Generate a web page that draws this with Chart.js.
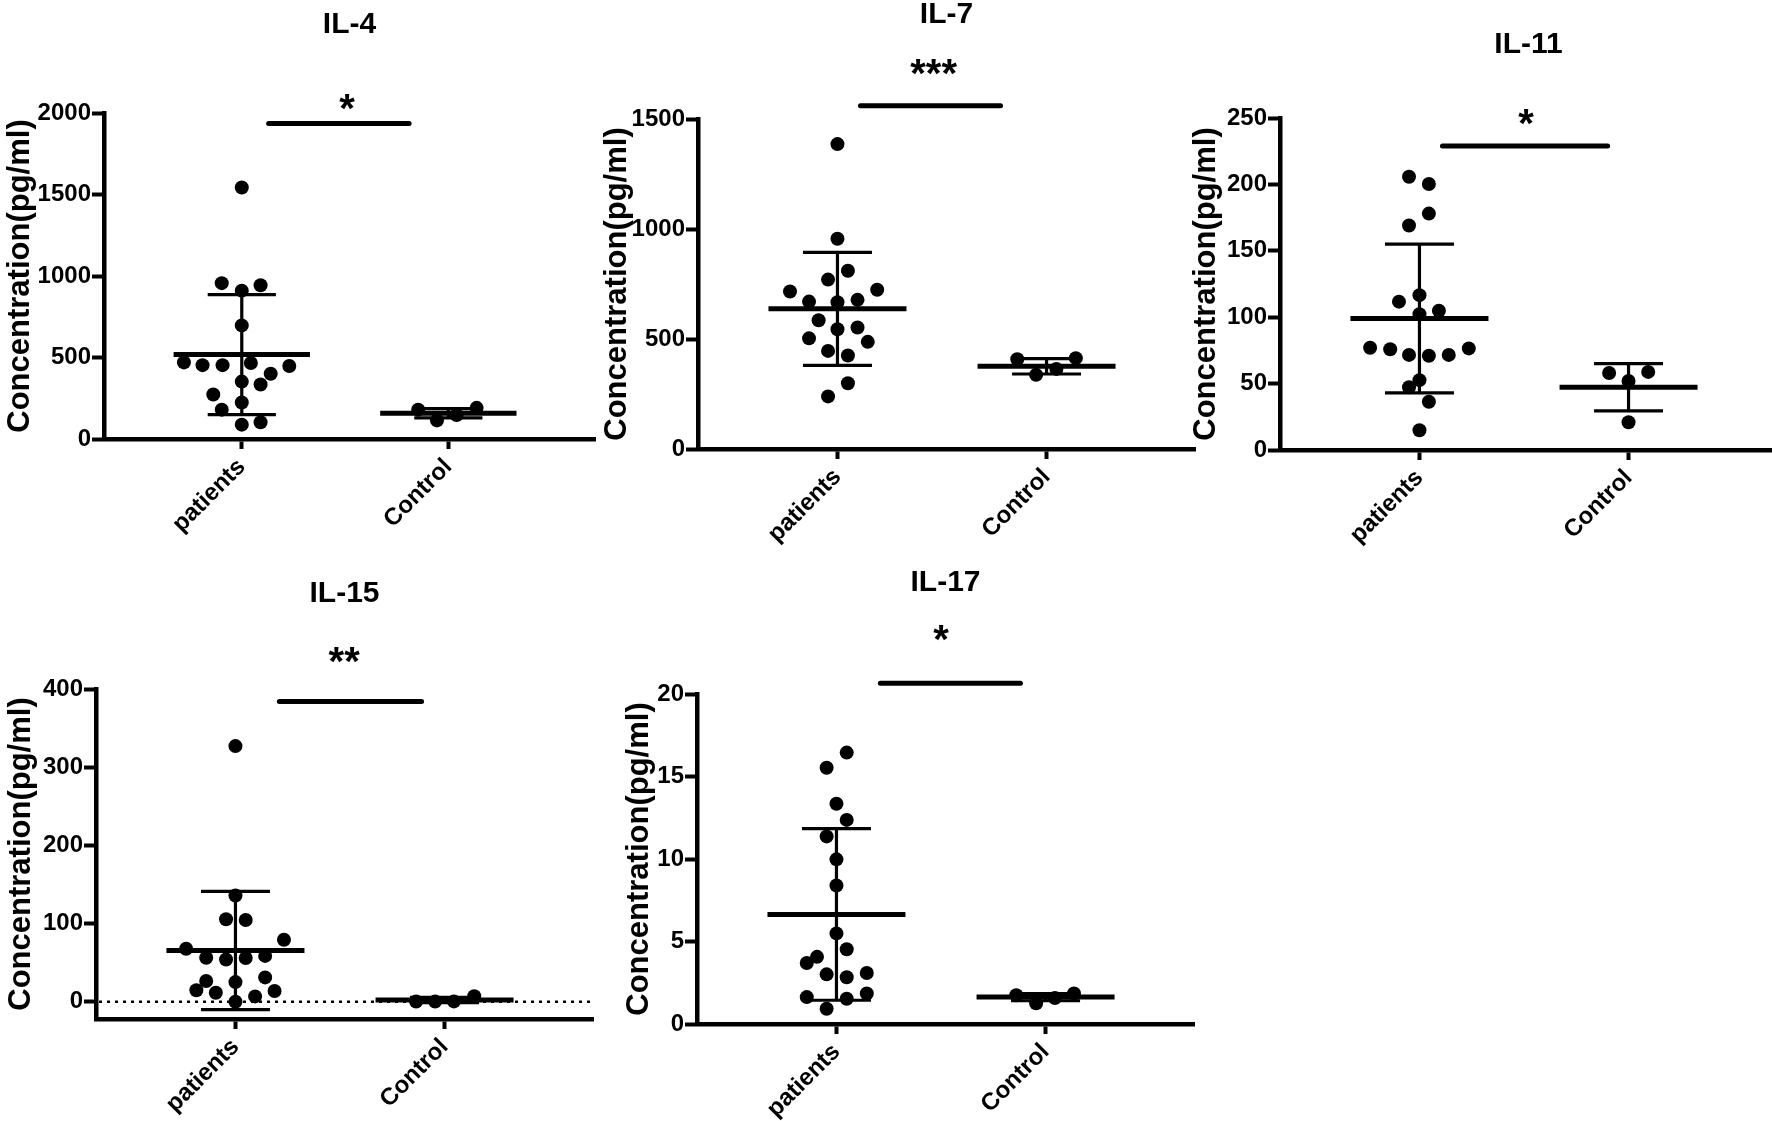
<!DOCTYPE html>
<html>
<head>
<meta charset="utf-8">
<title>Cytokine concentrations</title>
<script src="https://cdn.jsdelivr.net/npm/chart.js@4.4.1/dist/chart.umd.min.js"></script>
<style>
  html, body { margin: 0; padding: 0; background: #fff; width: 1772px; height: 1121px; overflow: hidden; }
  body { position: relative; }
  canvas { position: absolute; }
</style>
</head>
<body>
<script>
// ---------------- DATA ----------------
const categories = ['patients', 'Control'];
const yAxisTitle = 'Concentration(pg/ml)';

// IL-4
const il4Patients = [1543, 956, 910, 943, 697, 470, 453, 453, 466, 448, 400, 352, 334, 273, 224, 180, 88, 103];
const il4PatientsJitter = [0, -0.097, 0, 0.091, 0, -0.28, -0.19, -0.093, 0.044, 0.23, 0.14, 0, 0.091, -0.138, 0, -0.097, 0, 0.091];
const il4Control = [180, 114, 147, 191];
const il4ControlJitter = [-0.146, -0.055, 0.04, 0.137];
const il4Mean = [518, 158];
const il4SD = [368, 28];
const il4Ticks = [0, 500, 1000, 1500, 2000];
const il4Sig = '*';

// IL-7
const il7Patients = [1386, 956, 810, 770, 716, 724, 670, 667, 678, 585, 544, 552, 503, 487, 446, 425, 299, 239];
const il7PatientsJitter = [0, 0, 0.05, -0.045, -0.227, 0.19, -0.136, 0, 0.096, -0.09, 0, 0.096, -0.136, 0.145, -0.045, 0.05, 0.05, -0.045];
const il7Control = [408, 337, 364, 413];
const il7ControlJitter = [-0.14, -0.05, 0.047, 0.14];
const il7Mean = [637, 376];
const il7SD = [257, 35];
const il7Ticks = [0, 500, 1000, 1500];
const il7Sig = '***';

// IL-11
const il11Patients = [205.8, 200.3, 178, 169, 116.6, 111.7, 102.2, 104.9, 77, 75.9, 71.6, 71, 71.6, 76.5, 52.6, 47.2, 36.3, 14.9];
const il11PatientsJitter = [-0.05, 0.045, 0.045, -0.05, 0, -0.098, 0, 0.093, -0.236, -0.14, -0.05, 0.045, 0.14, 0.236, 0, -0.05, 0.045, 0];
const il11Control = [58, 52, 58.8, 20.9];
const il11ControlJitter = [-0.093, 0, 0.094, 0];
const il11Mean = [99, 47.2];
const il11SD = [56, 17.8];
const il11Ticks = [0, 50, 100, 150, 200, 250];
const il11Sig = '*';

// IL-15
const il15Patients = [327, 136, 105.5, 104.6, 79.4, 67.9, 56.4, 54.1, 56, 58.7, 26.6, 25.2, 31.2, 14.7, 11.5, 6.9, 13.8, 0];
const il15PatientsJitter = [0, 0, -0.045, 0.049, 0.232, -0.236, -0.14, -0.045, 0.049, 0.142, -0.14, 0, 0.142, -0.187, -0.094, 0.094, 0.187, 0];
const il15Control = [0.4, 0.3, 0.5, 7.2];
const il15ControlJitter = [-0.136, -0.045, 0.045, 0.142];
const il15Mean = [65.6, 2.4];
const il15SD = [75.5, 3.4];
const il15Ticks = [0, 100, 200, 300, 400];
const il15Sig = '**';

// IL-17
const il17Patients = [16.45, 15.53, 13.35, 12.37, 11.37, 9.98, 8.39, 5.49, 4.53, 4.07, 3.70, 3.01, 2.83, 3.09, 1.63, 1.53, 1.85, 0.92];
const il17PatientsJitter = [0.049, -0.047, 0, 0.049, -0.047, 0, 0, 0, 0.049, -0.093, -0.142, -0.047, 0.049, 0.145, -0.142, 0.049, 0.145, -0.047];
const il17Control = [1.74, 1.26, 1.57, 1.85];
const il17ControlJitter = [-0.14, -0.045, 0.045, 0.136];
const il17Mean = [6.64, 1.63];
const il17SD = [5.2, 0.22];
const il17Ticks = [0, 5, 10, 15, 20];
const il17Sig = '*';

// ---------------- LAYOUT / STYLE ----------------
const FONT = '"Liberation Sans", Arial, Helvetica, sans-serif';
const X_MIN = 0.333, X_MAX = 2.71;
const MEAN_HALF = 0.33, CAP_HALF = 0.165;
const TITLE_SIZE = 30, YTITLE_SIZE = 31, TICK_SIZE = 24, CAT_SIZE = 24, STAR_SIZE = 40;
const X_AXIS_H = 120;
const AXIS_W = 4.5;

const panels = [
  { title: 'IL-4', patients: il4Patients, pj: il4PatientsJitter, control: il4Control, cj: il4ControlJitter,
    mean: il4Mean, sd: il4SD, ticks: il4Ticks, sig: il4Sig,
    area: [104, 113, 595, 439], yRange: [0, 2000], labelCx: 20, titleCy: 25,
    sigBar: [1.13, 1.81, 1935], star: [1.51, 2083], zeroLine: false },
  { title: 'IL-7', patients: il7Patients, pj: il7PatientsJitter, control: il7Control, cj: il7ControlJitter,
    mean: il7Mean, sd: il7SD, ticks: il7Ticks, sig: il7Sig,
    area: [698, 119, 1195, 449], yRange: [0, 1500], labelCx: 617, titleCy: 15,
    sigBar: [1.11, 1.78, 1560], star: [1.46, 1748], zeroLine: false },
  { title: 'IL-11', patients: il11Patients, pj: il11PatientsJitter, control: il11Control, cj: il11ControlJitter,
    mean: il11Mean, sd: il11SD, ticks: il11Ticks, sig: il11Sig,
    area: [1280, 118, 1777, 450], yRange: [0, 250], labelCx: 1206, titleCy: 45,
    sigBar: [1.11, 1.9, 229], star: [1.51, 253], zeroLine: false },
  { title: 'IL-15', patients: il15Patients, pj: il15PatientsJitter, control: il15Control, cj: il15ControlJitter,
    mean: il15Mean, sd: il15SD, ticks: il15Ticks, sig: il15Sig,
    area: [96, 689, 593, 1019], yRange: [-22, 400], labelCx: 21, titleCy: 594,
    sigBar: [1.21, 1.89, 384], star: [1.52, 447], zeroLine: true },
  { title: 'IL-17', patients: il17Patients, pj: il17PatientsJitter, control: il17Control, cj: il17ControlJitter,
    mean: il17Mean, sd: il17SD, ticks: il17Ticks, sig: il17Sig,
    area: [697, 694, 1194, 1024], yRange: [0, 20], labelCx: 639, titleCy: 583,
    sigBar: [1.21, 1.88, 20.65], star: [1.5, 23.9], zeroLine: false },
];

Chart.defaults.font.family = FONT;
Chart.defaults.color = '#000';

const decorPlugin = {
  id: 'decor',
  beforeDatasetsDraw(chart, args, o) {
    const { ctx, chartArea } = chart;
    const ys = chart.scales.y;
    if (o.zeroLine) {
      ctx.save();
      ctx.strokeStyle = '#000';
      ctx.lineWidth = 2.5;
      ctx.setLineDash([3, 5]);
      const y0 = ys.getPixelForValue(0);
      ctx.beginPath();
      ctx.moveTo(chartArea.left + 3, y0);
      ctx.lineTo(chartArea.right, y0);
      ctx.stroke();
      ctx.restore();
    }
  },
  afterDatasetsDraw(chart, args, o) {
    const { ctx } = chart;
    const xs = chart.scales.x, ys = chart.scales.y;
    const px = v => xs.getPixelForValue(v), py = v => ys.getPixelForValue(v);
    ctx.save();
    ctx.strokeStyle = '#000';
    ctx.fillStyle = '#000';
    o.mean.forEach((m, i) => {
      const c = i + 1, s = o.sd[i];
      // SD whisker
      ctx.lineWidth = 3.2;
      ctx.lineCap = 'butt';
      ctx.beginPath();
      ctx.moveTo(px(c), py(m + s)); ctx.lineTo(px(c), py(m - s));
      ctx.moveTo(px(c - CAP_HALF), py(m + s)); ctx.lineTo(px(c + CAP_HALF), py(m + s));
      ctx.moveTo(px(c - CAP_HALF), py(m - s)); ctx.lineTo(px(c + CAP_HALF), py(m - s));
      ctx.stroke();
      // mean
      ctx.lineWidth = 5;
      ctx.beginPath();
      ctx.moveTo(px(c - MEAN_HALF), py(m)); ctx.lineTo(px(c + MEAN_HALF), py(m));
      ctx.stroke();
    });
    // significance bar
    ctx.lineWidth = 5;
    ctx.lineCap = 'round';
    ctx.beginPath();
    ctx.moveTo(px(o.sigBar[0]), py(o.sigBar[2]));
    ctx.lineTo(px(o.sigBar[1]), py(o.sigBar[2]));
    ctx.stroke();
    // stars
    ctx.font = 'bold ' + STAR_SIZE + 'px ' + FONT;
    ctx.textAlign = 'center';
    ctx.textBaseline = 'alphabetic';
    ctx.fillText(o.sig, px(o.star[0]), py(o.star[1]) + 0.575 * STAR_SIZE);
    ctx.restore();
  }
};

panels.forEach(p => {
  const [l, t, r, b] = p.area;
  const ytLine = YTITLE_SIZE * 1.2;
  const cL = Math.floor(p.labelCx - ytLine / 2);
  const cT = Math.floor(p.titleCy - TITLE_SIZE / 2);
  const W = r - cL + 8;
  const H = b - cT + X_AXIS_H;
  const cv = document.createElement('canvas');
  cv.width = W; cv.height = H;
  cv.style.left = cL + 'px'; cv.style.top = cT + 'px';
  cv.style.width = W + 'px'; cv.style.height = H + 'px';
  document.body.appendChild(cv);

  const pts = (vals, jit, c) => vals.map((v, i) => ({ x: c + jit[i], y: v }));

  new Chart(cv, {
    type: 'scatter',
    data: {
      datasets: [
        { label: categories[0], data: pts(p.patients, p.pj, 1) },
        { label: categories[1], data: pts(p.control, p.cj, 2) },
      ]
    },
    options: {
      responsive: false,
      animation: false,
      events: [],
      layout: { padding: { left: 0, top: 0, right: 8, bottom: 0 } },
      elements: {
        point: { radius: 7, backgroundColor: '#000', borderWidth: 0, pointStyle: 'circle' }
      },
      datasets: { scatter: { clip: false } },
      plugins: {
        legend: { display: false },
        tooltip: { enabled: false },
        title: {
          display: true, text: p.title, fullSize: false, color: '#000',
          font: { size: TITLE_SIZE, weight: 'bold', family: FONT, lineHeight: 1 },
          padding: { top: p.titleCy - TITLE_SIZE / 2 - cT, bottom: t - (p.titleCy + TITLE_SIZE / 2) }
        },
        decor: { mean: p.mean, sd: p.sd, sigBar: p.sigBar, star: p.star, sig: p.sig, zeroLine: p.zeroLine }
      },
      scales: {
        x: {
          type: 'linear', min: X_MIN, max: X_MAX,
          afterBuildTicks: s => { s.ticks = categories.map((c, i) => ({ value: i + 1 })); },
          afterFit: s => { s.height = X_AXIS_H; },
          ticks: {
            autoSkip: false, minRotation: 45, maxRotation: 45, padding: 4, color: '#000',
            font: { size: CAT_SIZE, weight: 'bold', family: FONT },
            callback: v => categories[Math.round(v) - 1]
          },
          grid: { drawOnChartArea: false, drawTicks: true, tickLength: 10, tickWidth: 4, color: '#000' },
          border: { display: true, width: AXIS_W, color: '#000' }
        },
        y: {
          type: 'linear', min: p.yRange[0], max: p.yRange[1],
          afterBuildTicks: s => { s.ticks = p.ticks.map(v => ({ value: v })); },
          afterFit: s => { s.width = l - cL; },
          ticks: {
            padding: 1, color: '#000',
            font: { size: TICK_SIZE, weight: 'bold', family: FONT },
            callback: v => String(v)
          },
          grid: { drawOnChartArea: false, drawTicks: true, tickLength: 12, tickWidth: 4, color: '#000' },
          border: { display: true, width: AXIS_W, color: '#000' },
          title: {
            display: true, text: yAxisTitle, color: '#000',
            font: { size: YTITLE_SIZE, weight: 'bold', family: FONT, lineHeight: 1.2 },
            padding: { top: p.labelCx - cL - ytLine / 2, bottom: 0 }
          }
        }
      }
    },
    plugins: [decorPlugin]
  });
});
</script>
</body>
</html>
